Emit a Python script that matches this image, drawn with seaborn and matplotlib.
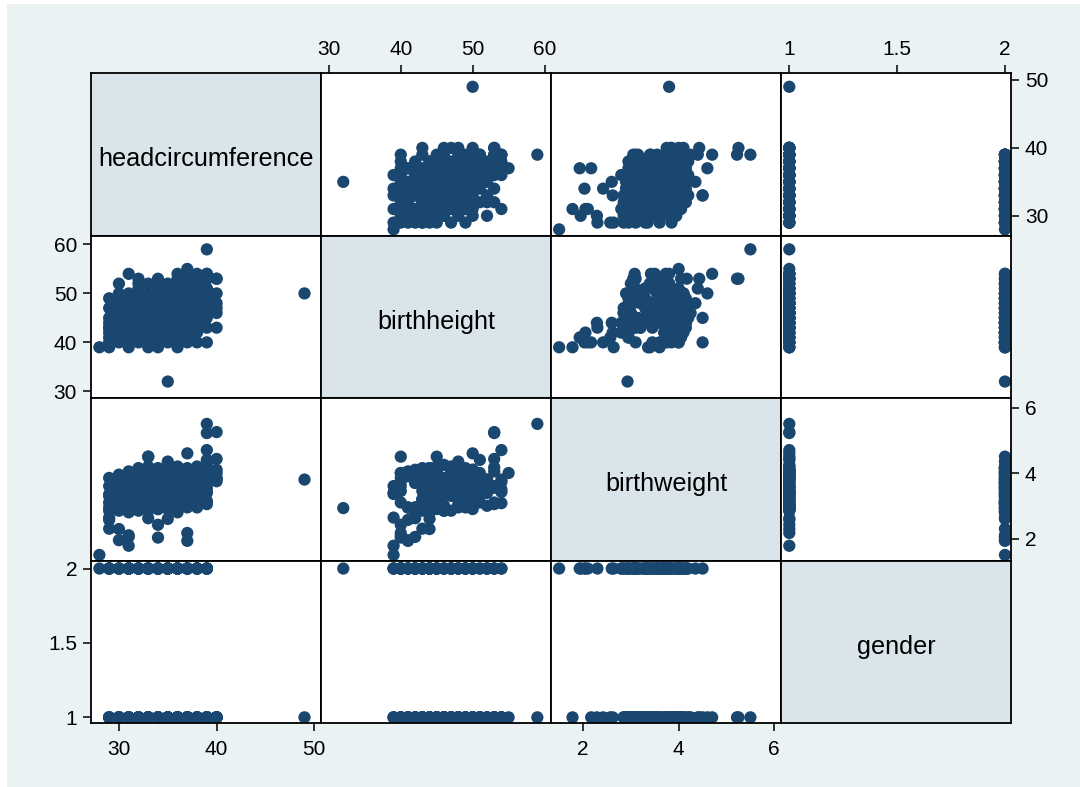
import matplotlib
matplotlib.use("Agg")
import pandas as pd
import seaborn as sns
import matplotlib.pyplot as plt
from matplotlib.patches import Rectangle
from matplotlib.ticker import FuncFormatter

variables = ["headcircumference", "birthheight", "birthweight", "gender"]

# one entry per baby; first lines = outlying / edge points, then the main cloud by head size
headcircumference = [
    28, 49, 35, 39, 40, 39, 31, 30, 31, 37, 37, 34, 30, 29, 29, 34, 35, 33, 31, 33,
    37, 39, 40, 35, 33, 37, 40, 40, 40, 40, 38, 39, 37, 38, 36, 32, 31, 30, 29, 29,
    39, 38, 36, 39, 40, 36, 38,
    29, 29, 29, 29, 29, 29,
    30, 30, 30, 30, 30, 30, 30, 30,
    31, 31, 31, 31, 31, 31, 31, 31, 31,
    32, 32, 32, 32, 32, 32, 32, 32, 32, 32, 32,
    33, 33, 33, 33, 33, 33, 33, 33, 33, 33, 33, 33,
    34, 34, 34, 34, 34, 34, 34, 34, 34, 34, 34, 34,
    35, 35, 35, 35, 35, 35, 35, 35, 35, 35, 35, 35,
    36, 36, 36, 36, 36, 36, 36, 36, 36, 36, 36,
    37, 37, 37, 37, 37, 37, 37, 37, 37, 37,
    38, 38, 38, 38, 38, 38, 38, 38, 38,
    39, 39, 39, 39, 39, 39, 39, 39,
    32, 34, 36, 33, 35, 31, 37, 34, 30, 36, 33, 38, 35, 32, 34, 36, 31, 37,
]
birthheight = [
    39, 50, 32, 59, 53, 53, 39, 41, 42, 41, 40, 40, 44, 43, 41, 40, 44, 42, 40, 45,
    50, 54, 53, 48, 40, 55, 43, 47, 48, 50, 53, 54, 54, 54, 54, 53, 54, 52, 49, 39,
    40, 46, 44, 51, 46, 39, 40,
    40, 42, 44, 45, 47, 43,
    40, 42, 43, 45, 46, 48, 50, 44,
    41, 42, 44, 45, 46, 47, 49, 50, 43,
    40, 41, 43, 44, 45, 46, 47, 48, 49, 51, 50,
    39, 41, 42, 43, 44, 45, 46, 47, 48, 49, 50, 52,
    39, 41, 42, 43, 44, 45, 46, 47, 48, 49, 51, 53,
    40, 41, 42, 43, 44, 45, 46, 47, 48, 50, 51, 52,
    40, 42, 43, 45, 46, 47, 48, 49, 50, 52, 53,
    41, 43, 44, 46, 47, 48, 49, 51, 52, 53,
    42, 44, 45, 47, 48, 49, 50, 52, 51,
    43, 45, 46, 48, 49, 50, 51, 53,
    43, 44, 45, 46, 47, 44, 45, 42, 46, 43, 48, 44, 49, 52, 50, 51, 48, 42,
]
birthweight = [
    1.50, 3.80, 2.93, 5.50, 5.25, 5.22, 1.78, 1.95, 2.05, 1.93,
    2.17, 2.03, 2.29, 2.30, 2.57, 2.42, 2.60, 2.62, 2.10, 4.50,
    4.60, 4.70, 4.43, 4.35, 4.50, 4.00, 3.75, 3.85, 4.00, 4.10,
    4.17, 3.42, 3.08, 3.73, 3.80, 3.60, 3.50, 3.40, 3.30, 2.64,
    3.10, 2.95, 2.80, 4.40, 3.83, 3.36, 4.00,
    3.60, 2.95, 3.85, 3.10, 3.35, 2.85,
    3.45, 2.90, 3.80, 3.05, 2.85, 3.95, 3.25, 3.60,
    3.90, 2.80, 3.40, 4.05, 3.00, 3.70, 2.95, 3.55, 3.20,
    3.75, 2.95, 4.10, 3.15, 3.90, 2.85, 3.50, 3.00, 4.15, 3.30, 3.65,
    3.60, 4.05, 2.90, 3.85, 3.10, 4.20, 3.35, 2.85, 3.70, 4.00, 3.20, 3.55,
    3.40, 3.95, 2.90, 4.15, 3.15, 3.75, 2.95, 4.05, 3.30, 3.85, 3.55, 3.10,
    4.00, 2.95, 3.70, 3.20, 4.15, 2.90, 3.85, 3.45, 3.05, 4.10, 3.30, 3.65,
    3.85, 2.95, 4.10, 3.35, 3.00, 4.20, 3.60, 3.15, 3.95, 3.40, 4.05,
    3.95, 3.10, 4.15, 2.95, 3.70, 3.25, 4.05, 3.45, 3.80, 3.05,
    4.10, 3.05, 3.90, 3.30, 4.20, 3.55, 3.15, 3.80, 4.00,
    3.95, 3.15, 4.25, 3.40, 4.10, 3.05, 3.70, 3.55,
    3.45, 3.55, 3.40, 3.60, 3.50, 3.65, 3.30, 3.70, 3.35,
    3.95, 2.95, 3.85, 3.05, 3.00, 2.90, 3.10, 3.20, 4.00,
]
gender = [
    2, 1, 2, 1, 1, 1, 1, 2, 2, 2, 1, 2, 1, 2, 1, 1, 2, 1, 2, 1,
    1, 1, 1, 2, 2, 1, 1, 1, 1, 1, 2, 2, 1, 1, 1, 1, 2, 1, 2, 2,
    2, 1, 2, 1, 1, 1, 2,
    1, 2, 1, 2, 1, 2,
    2, 1, 2, 1, 2, 1, 2, 1,
    1, 2, 1, 2, 1, 2, 1, 2, 1,
    2, 1, 2, 1, 2, 1, 2, 1, 2, 1, 2,
    2, 1, 2, 1, 2, 1, 2, 1, 2, 1, 2, 1,
    1, 2, 1, 2, 1, 2, 1, 2, 1, 2, 1, 2,
    2, 1, 2, 1, 2, 1, 2, 1, 2, 1, 2, 1,
    1, 2, 1, 2, 1, 2, 1, 2, 1, 2, 1,
    2, 1, 2, 1, 2, 1, 2, 1, 2, 1,
    1, 2, 1, 2, 1, 2, 1, 2, 1,
    1, 2, 1, 2, 1, 2, 1, 2,
    1, 2, 1, 2, 1, 2, 1, 2, 1, 2, 1, 2, 1, 2, 1, 2, 1, 2,
]

axis_ticks = {
    "headcircumference": [30, 40, 50],
    "birthheight": [30, 40, 50, 60],
    "birthweight": [2, 4, 6],
    "gender": [1, 1.5, 2],
}

navy = "#1A476F"
outer_bg = "#EAF2F3"
diag_bg = "#D9E5EA"

sns.set_style("white")
plt.rcParams["font.family"] = ["Liberation Sans", "DejaVu Sans"]

df = pd.DataFrame({
    "headcircumference": headcircumference,
    "birthheight": birthheight,
    "birthweight": birthweight,
    "gender": gender,
})

g = sns.PairGrid(df, vars=variables, height=2, aspect=1.4, despine=False)
g.map_offdiag(sns.scatterplot, s=78, color=navy, edgecolor="none", linewidth=0)

fig = g.figure
fig.set_size_inches(10.8, 7.87)
fig.set_facecolor("white")
fig.add_artist(Rectangle((7 / 1080, 0), 1, 1 - 4 / 787, transform=fig.transFigure,
                         facecolor=outer_bg, edgecolor="none", zorder=-10))

xlims = [(27.14, 50.69), (28.9, 60.9), (1.33, 6.14), (0.9615, 2.028)]
ylims = [(27.1, 51.03), (28.64, 61.83), (1.33, 6.29), (0.962, 2.054)]
fmt = FuncFormatter(lambda v, p: f"{v:g}")

n = len(variables)
for i in range(n):
    for j in range(n):
        ax = g.axes[i, j]
        ax.set_xlabel("")
        ax.set_ylabel("")
        ax.set_facecolor(diag_bg if i == j else "white")
        for sp in ax.spines.values():
            sp.set_color("black")
            sp.set_linewidth(1.3)
        ax.tick_params(left=False, right=False, top=False, bottom=False,
                       labelleft=False, labelright=False, labeltop=False, labelbottom=False,
                       length=6, width=1.1, pad=4, labelsize=15, colors="black")
        if i == j:
            ax.text(0.5, 0.47, variables[i], transform=ax.transAxes,
                    ha="center", va="center", fontsize=18.2, color="black")

for j, var in enumerate(variables):
    g.axes[0, j].set_xticks(axis_ticks[var])
    g.axes[0, j].set_xlim(xlims[j])
    g.axes[0, j].xaxis.set_major_formatter(fmt)
for i, var in enumerate(variables):
    g.axes[i, 0].set_yticks(axis_ticks[var])
    g.axes[i, 0].set_ylim(ylims[i])
    g.axes[i, 0].yaxis.set_major_formatter(fmt)

# Stata-style alternating axes
for j in range(n):
    if j % 2 == 0:
        g.axes[n - 1, j].tick_params(axis="x", bottom=True, labelbottom=True, pad=6)
    else:
        g.axes[0, j].tick_params(axis="x", top=True, labeltop=True, pad=4)
for i in range(n):
    if i % 2 == 0:
        g.axes[i, n - 1].tick_params(axis="y", right=True, labelright=True)
    else:
        g.axes[i, 0].tick_params(axis="y", left=True, labelleft=True)

fig.subplots_adjust(left=91 / 1080, right=1011 / 1080, bottom=1 - 723 / 787,
                    top=1 - 73 / 787, wspace=0, hspace=0)
fig.savefig("out.png", dpi=100, facecolor=fig.get_facecolor())
